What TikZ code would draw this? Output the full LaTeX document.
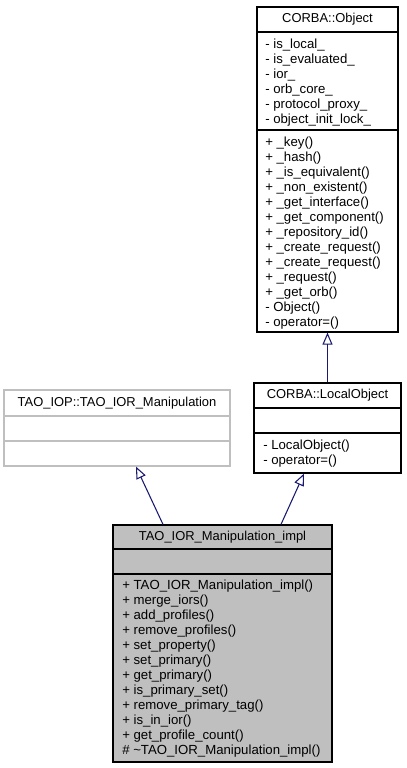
\documentclass[tikz,border=0pt]{standalone}
\usepackage{fontspec}
\setmainfont{Liberation Sans}
\usetikzlibrary{arrows.meta,fit,calc}
\definecolor{edgeblue}{HTML}{191970}
\definecolor{boxgray}{HTML}{BFBFBF}
\tikzset{
  classbox/.style={draw=black, fill=white, line width=0.9pt, inner sep=0pt},
  title/.style={font=\fontsize{9.7}{11}\selectfont, inner sep=0pt},
  member/.style={font=\fontsize{9.9}{11}\selectfont, anchor=west, inner sep=0pt},
  inherit/.style={draw=edgeblue, line width=0.8pt, -{Triangle[open, length=9pt, width=7.5pt]}}
}
\begin{document}
\begin{tikzpicture}[x=0.75pt, y=-0.75pt]
\useasboundingbox (0,0) rectangle (407,768);
% the four classes
\node[classbox, fit={(257,7) (398,332)}] (object) {};
\node[classbox, fit={(254,383) (401,473)}] (localobj) {};
\node[classbox, draw=boxgray, fit={(4,390) (230,466)}] (manip) {};
\node[classbox, fill=boxgray, fit={(113,525) (332,762)}] (impl) {};
% edit here for the dividers
\foreach \y in {32,130} \draw[line width=0.9pt] (257,\y) -- (398,\y);
\foreach \y in {408,433} \draw[line width=0.9pt] (254,\y) -- (401,\y);
\foreach \y in {416,441} \draw[line width=0.9pt, boxgray] (4,\y) -- (230,\y);
\foreach \y in {549,574} \draw[line width=0.9pt] (113,\y) -- (332,\y);
% titles
\node[title] (objname) at (327.5,19.5) {CORBA::Object};
\node[title] (localname) at (327.5,395.5) {CORBA::LocalObject};
\node[title] (manipname) at (117,403) {TAO\_IOP::TAO\_IOR\_Manipulation};
\node[title] (implname) at (222.5,537) {TAO\_IOR\_Manipulation\_impl};
% edit here for the members
\foreach \m [count=\i] in {- is\_local\_, - is\_evaluated\_, - ior\_, - orb\_core\_,
  - protocol\_proxy\_, - object\_init\_lock\_}
\node[member] at (265,30+15*\i) {\m};
\foreach \m [count=\i] in {+ \_key(), + \_hash(), + \_is\_equivalent(), + \_non\_existent(),
  + \_get\_interface(), + \_get\_component(), + \_repository\_id(), + \_create\_request(),
  + \_create\_request(), + \_request(), + \_get\_orb(), - Object(), - operator=()}
\node[member] at (265,128+15*\i) {\m};
\foreach \m [count=\i] in {- LocalObject(), - operator=()}
\node[member] at (263,431+15*\i) {\m};
\foreach \m [count=\i] in {+ TAO\_IOR\_Manipulation\_impl(), + merge\_iors(), + add\_profiles(),
  + remove\_profiles(), + set\_property(), + set\_primary(), + get\_primary(),
  + is\_primary\_set(), + remove\_primary\_tag(), + is\_in\_ior(), + get\_profile\_count(),
  \# \textasciitilde TAO\_IOR\_Manipulation\_impl()}
\node[member] at (122,571+15*\i) {\m};
% inheritance
\draw[inherit] (localobj.north) -- (object.south);
\draw[inherit] ($(impl.north)+(-59.5,0)$) -- ($(manip.south)+(19,0)$);
\draw[inherit] ($(impl.north)+(58.5,0)$) -- ($(localobj.south)+(-23.5,0)$);
\end{tikzpicture}
\end{document}
